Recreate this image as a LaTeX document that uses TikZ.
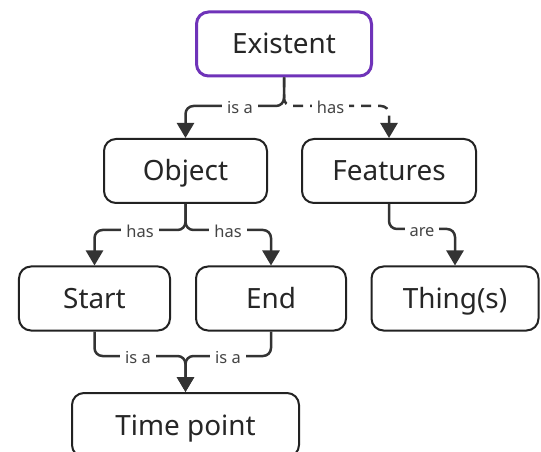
\documentclass[tikz,border=0pt]{standalone}
\usepackage{fontspec}
\setmainfont{Noto Sans}
\usetikzlibrary{arrows.meta}
\definecolor{edge}{RGB}{51,51,51}
\definecolor{frame}{RGB}{34,34,34}
\definecolor{rootframe}{RGB}{111,51,185}
\definecolor{labeltext}{RGB}{68,68,68}
\tikzset{
  box/.style={draw=frame, line width=2bp, rounded corners=12bp, fill=white,
    minimum height=64bp, inner sep=0pt, text=black!85,
    text height=20bp, text depth=0bp,
    font=\fontsize{28}{32}\selectfont},
  link/.style={draw=edge, line width=2.5bp, rounded corners=8bp,
    -{Triangle[width=17bp,length=15bp]}},
  lbl/.style={fill=white, text=labeltext, inner xsep=5bp, inner ysep=2bp,
    text height=15bp, text depth=0bp,
    font=\fontsize{16.5}{19}\selectfont},
}
\begin{document}
\begin{tikzpicture}[x=1bp,y=-1bp]
\clip (0,0) rectangle (541,452);
\fill[white] (0,0) rectangle (541,452);

% concept boxes
\node[box, draw=rootframe, line width=3bp, minimum width=175bp] (e) at (284,44) {Existent};
\node[box, minimum width=163bp] (o) at (185.5,171) {Object};
\node[box, minimum width=174bp] (f) at (389,171) {Features};
\node[box, minimum width=151bp] (s) at (94.5,298.5) {Start};
\node[box, minimum width=150bp] (en) at (271,298.5) {End};
\node[box, minimum width=167bp] (th) at (455,298.5) {Thing(s)};
\node[box, minimum width=227bp] (tp) at (185.5,425) {Time point};

% heights of the horizontal runs
\coordinate (bus1) at (0,106);
\coordinate (bus2) at (0,230);
\coordinate (bus3) at (0,229);
\coordinate (bus4) at (0,356);

% connectors
\draw[link, dash pattern=on 10bp off 7bp] (e.south) |- (f.north |- bus1) -- (f.north);
\draw[link] (e.south) |- (o.north |- bus1) -- (o.north);
\draw[link] (o.south) |- (s.north |- bus2) -- (s.north);
\draw[link] (o.south) |- (en.north |- bus2) -- (en.north);
\draw[link] (f.south) |- (th.north |- bus3) -- (th.north);
\draw[link] (s.south) |- (tp.north |- bus4) -- (tp.north);
\draw[link] (en.south) |- (tp.north |- bus4) -- (tp.north);

% connector labels
\node[lbl] (l1) at (240,106) {is a};
\node[lbl] (l2) at (330.5,106) {has};
\node[lbl] (l3) at (140,230) {has};
\node[lbl] (l4) at (228,230) {has};
\node[lbl] (l5) at (422,229) {are};
\node[lbl] (l6) at (138,356) {is a};
\node[lbl] (l7) at (228,356) {is a};
\end{tikzpicture}
\end{document}
